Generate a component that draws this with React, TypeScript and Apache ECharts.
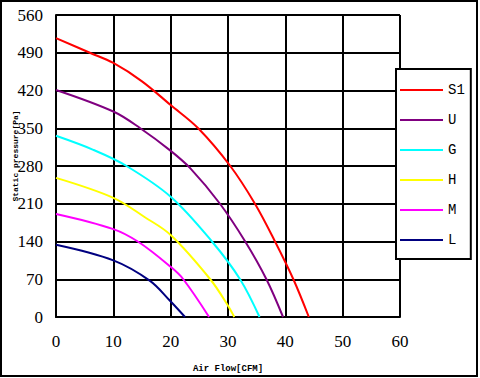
import React, { useEffect, useRef } from "react";
import * as echarts from "echarts";

// Fan curves: [air flow (CFM), static pressure (Pa)]
const seriesNames = ["S1", "U", "G", "H", "M", "L"];
const seriesColors = ["#FF0000", "#800080", "#00FFFF", "#FFFF00", "#FF00FF", "#000080"];

const curveS1 = [[0, 517], [5.9, 490], [10, 471], [15, 437], [20, 393], [24.8, 350], [30.4, 280], [34.7, 210], [38.2, 140], [41.4, 70], [44.1, 0]];
const curveU = [[0, 421], [10, 381], [14.7, 350], [19.9, 309], [23.4, 276], [28.6, 210], [33, 140], [36.7, 70], [39.6, 0]];
const curveG = [[0, 336], [6.5, 310], [12.3, 280], [20, 223], [27.2, 140], [32.1, 70], [35.5, 0]];
const curveH = [[0, 258], [10, 221], [15.5, 185], [20, 152], [26.9, 70], [30, 21], [31.1, 0]];
const curveM = [[0, 191], [10, 163], [14.4, 139], [20, 93], [22.2, 70], [26.7, 0]];
const curveL = [[0, 134], [10, 105], [16.4, 67], [19.8, 31], [22.5, 0]];
const curves = [curveS1, curveU, curveG, curveH, curveM, curveL];

const xTicks = { min: 0, max: 60, interval: 10 };
const yTicks = { min: 0, max: 560, interval: 70 };
const xName = "Air Flow[CFM]";
const yName = "Static pressure[Pa]";

export default function App() {
  const ref = useRef<HTMLDivElement>(null);
  useEffect(() => {
    if (!ref.current) return;
    const chart = echarts.init(ref.current, null, { renderer: "svg" });
    chart.setOption({
      animation: false,
      backgroundColor: "#fff",
      grid: { left: 56, right: 80, top: 15, bottom: 61, containLabel: false },
      xAxis: {
        type: "value",
        min: xTicks.min,
        max: xTicks.max,
        interval: xTicks.interval,
        name: xName,
        nameLocation: "middle",
        nameGap: 47,
        nameTextStyle: { fontFamily: "Liberation Mono", fontWeight: "bold", fontSize: 9, color: "#000" },
        axisLine: { show: true, lineStyle: { color: "#000", width: 2 } },
        axisTick: { show: false },
        axisLabel: { fontFamily: "Liberation Serif", fontSize: 17, color: "#000", margin: 16 },
        splitLine: { show: true, lineStyle: { color: "#000", width: 2 } },
      },
      yAxis: {
        type: "value",
        min: yTicks.min,
        max: yTicks.max,
        interval: yTicks.interval,
        axisLine: { show: true, lineStyle: { color: "#000", width: 2 } },
        axisTick: { show: false },
        axisLabel: { fontFamily: "Liberation Serif", fontSize: 17, color: "#000", margin: 13 },
        splitLine: { show: true, lineStyle: { color: "#000", width: 2 } },
      },
      legend: {
        orient: "vertical",
        left: 396,
        top: 69,
        data: seriesNames,
        icon: "rect",
        itemWidth: 43,
        itemHeight: 2,
        itemGap: 16,
        padding: [14, 6, 12, 4],
        backgroundColor: "#fff",
        borderColor: "#000",
        borderWidth: 2,
        textStyle: { fontFamily: "Liberation Mono", fontSize: 14, color: "#000", lineHeight: 14 },
      },
      graphic: [
        {
          type: "rect",
          shape: { x: 1, y: 1, width: 476, height: 375 },
          style: { fill: "none", stroke: "#000", lineWidth: 2 },
          silent: true,
          z: 100,
        },
        {
          type: "text",
          x: 15,
          y: 156,
          rotation: Math.PI / 2,
          style: {
            text: yName,
            fontFamily: "Liberation Mono",
            fontWeight: "bold",
            fontSize: 8,
            fill: "#000",
            align: "center",
            verticalAlign: "middle",
          },
          z: 100,
        },
      ],
      series: seriesNames.map((name, i) => ({
        name,
        type: "line",
        data: curves[i],
        smooth: 0.35,
        showSymbol: false,
        lineStyle: { color: seriesColors[i], width: 2 },
        itemStyle: { color: seriesColors[i] },
      })),
    });
    return () => chart.dispose();
  }, []);
  return (
    <div
      ref={ref}
      style={{ position: "fixed", left: 0, top: 0, width: 480, height: 378 }}
    />
  );
}
